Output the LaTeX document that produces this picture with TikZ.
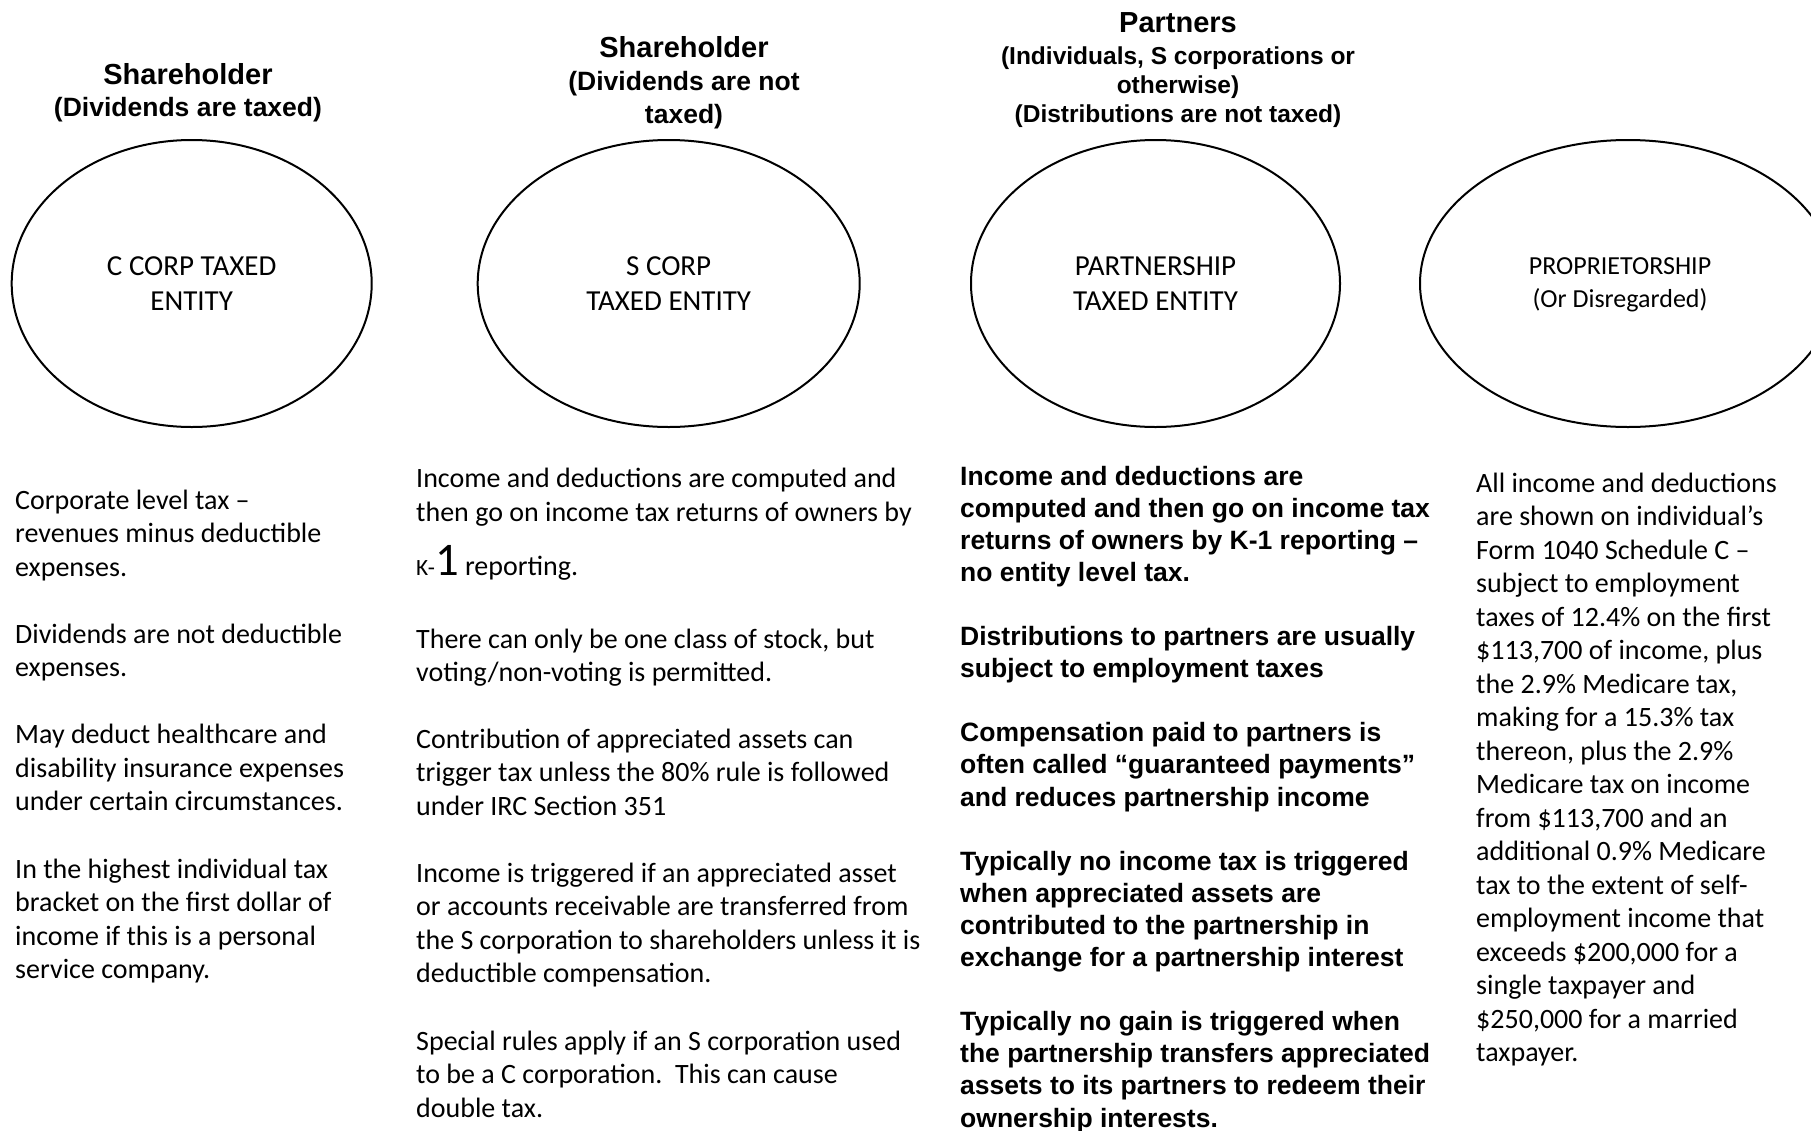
\documentclass[tikz,border=0pt]{standalone}
\usepackage{fontspec}
\setmainfont{Carlito}
\newfontfamily\arialfont{Liberation Sans}
\usetikzlibrary{shapes.geometric}

\newcommand\titlesize{\fontsize{29}{32}\selectfont}
\newcommand\smallk{\fontsize{23.3}{28}\selectfont}
\newcommand\bigone{\fontsize{46.7}{56}\selectfont}

% multi-line nodes sit on the baseline of their last line
\tikzset{
  entity/.style={draw, line width=2pt, ellipse, inner sep=0pt, align=center,
    minimum height=287, font=\fontsize{29}{35.5}\selectfont},
  head/.style={anchor=base, align=center, inner sep=0pt,
    font=\arialfont\bfseries\fontsize{26.5}{32}\selectfont},
  body/.style={anchor=base west, align=left, inner sep=0pt,
    font=\fontsize{28}{33.5}\selectfont},
  boldbody/.style={anchor=base west, align=left, inner sep=0pt,
    font=\arialfont\bfseries\fontsize{26.5}{32.1}\selectfont},
}

\begin{document}
\begin{tikzpicture}[x=1pt,y=-1pt]
\fill[white] (0,0) rectangle (1811,1130);
\useasboundingbox (0,0) rectangle (1811,1130);

% owner headings
\node[head] (h1) at (188,116) {{\titlesize Shareholder}\\(Dividends are taxed)};
\node[head, font=\arialfont\bfseries\fontsize{26.5}{33}\selectfont] (h2) at (684,123)
  {{\titlesize Shareholder}\\(Dividends are not\\taxed)};
\node[head, font=\arialfont\bfseries\fontsize{24.5}{29}\selectfont] (h3) at (1178,122.5)
  {{\titlesize Partners}\\[3pt](Individuals, S corporations or\\otherwise)\\(Distributions are not taxed)};

% entity ellipses
\node[entity, minimum width=360] (ccorp) at (191.7,283.5) {C CORP TAXED\\ENTITY};
\node[entity, minimum width=382] (scorp) at (668.7,283.5) {S CORP\\TAXED ENTITY};
\node[entity, minimum width=369] (pship) at (1155.5,283.5) {PARTNERSHIP\\TAXED ENTITY};
\node[entity, minimum width=416] (prop) at (1628,283.5) {};
\node[anchor=base, align=center, inner sep=0pt, font=\fontsize{26}{32.5}\selectfont]
  (proplabel) at (1620,307) {PROPRIETORSHIP\\(Or Disregarded)};

% C corporation notes
\node[body] (c1a) at (15,576) {Corporate level tax –\\revenues minus deductible\\expenses.};
\node[body] (c1b) at (15,676.5) {Dividends are not deductible\\expenses.};
\node[body] (c1c) at (15,810.5) {May deduct healthcare and\\disability insurance expenses\\under certain circumstances.};
\node[body] (c1d) at (15,978.5) {In the highest individual tax\\bracket on the first dollar of\\income if this is a personal\\service company.};

% S corporation notes
\node[body] (c2a) at (416,575) {Income and deductions are computed and\\then go on income tax returns of owners by\\[18pt]{\smallk K-}{\bigone 1} reporting.};
\node[body] (c2b) at (416,681.5) {There can only be one class of stock, but\\voting/non-voting is permitted.};
\node[body] (c2c) at (416,815) {Contribution of appreciated assets can\\trigger tax unless the 80\% rule is followed\\under IRC Section 351};
\node[body] (c2d) at (416,982.5) {Income is triggered if an appreciated asset\\or accounts receivable are transferred from\\the S corporation to shareholders unless it is\\deductible compensation.};
\node[body] (c2e) at (416,1117) {Special rules apply if an S corporation used\\to be a C corporation.\ \ This can cause\\double tax.};

% partnership notes
\node[boldbody] (c3a) at (960,581.3) {Income and deductions are\\computed and then go on income tax\\returns of owners by K-1 reporting –\\no entity level tax.};
\node[boldbody] (c3b) at (960,677.6) {Distributions to partners are usually\\subject to employment taxes};
\node[boldbody] (c3c) at (960,806) {Compensation paid to partners is\\often called “guaranteed payments”\\and reduces partnership income};
\node[boldbody] (c3d) at (960,966.5) {Typically no income tax is triggered\\when appreciated assets are\\contributed to the partnership in\\exchange for a partnership interest};
\node[boldbody] (c3e) at (960,1127) {Typically no gain is triggered when\\the partnership transfers appreciated\\assets to its partners to redeem their\\ownership interests.};

% proprietorship notes
\node[body] (c4a) at (1476,1061.5) {All income and deductions\\are shown on individual’s\\Form 1040 Schedule C –\\subject to employment\\taxes of 12.4\% on the first\\\$113,700 of income, plus\\the 2.9\% Medicare tax,\\making for a 15.3\% tax\\thereon, plus the 2.9\%\\Medicare tax on income\\from \$113,700 and an\\additional 0.9\% Medicare\\tax to the extent of self-\\employment income that\\exceeds \$200,000 for a\\single taxpayer and\\\$250,000 for a married\\taxpayer.};
\end{tikzpicture}
\end{document}
